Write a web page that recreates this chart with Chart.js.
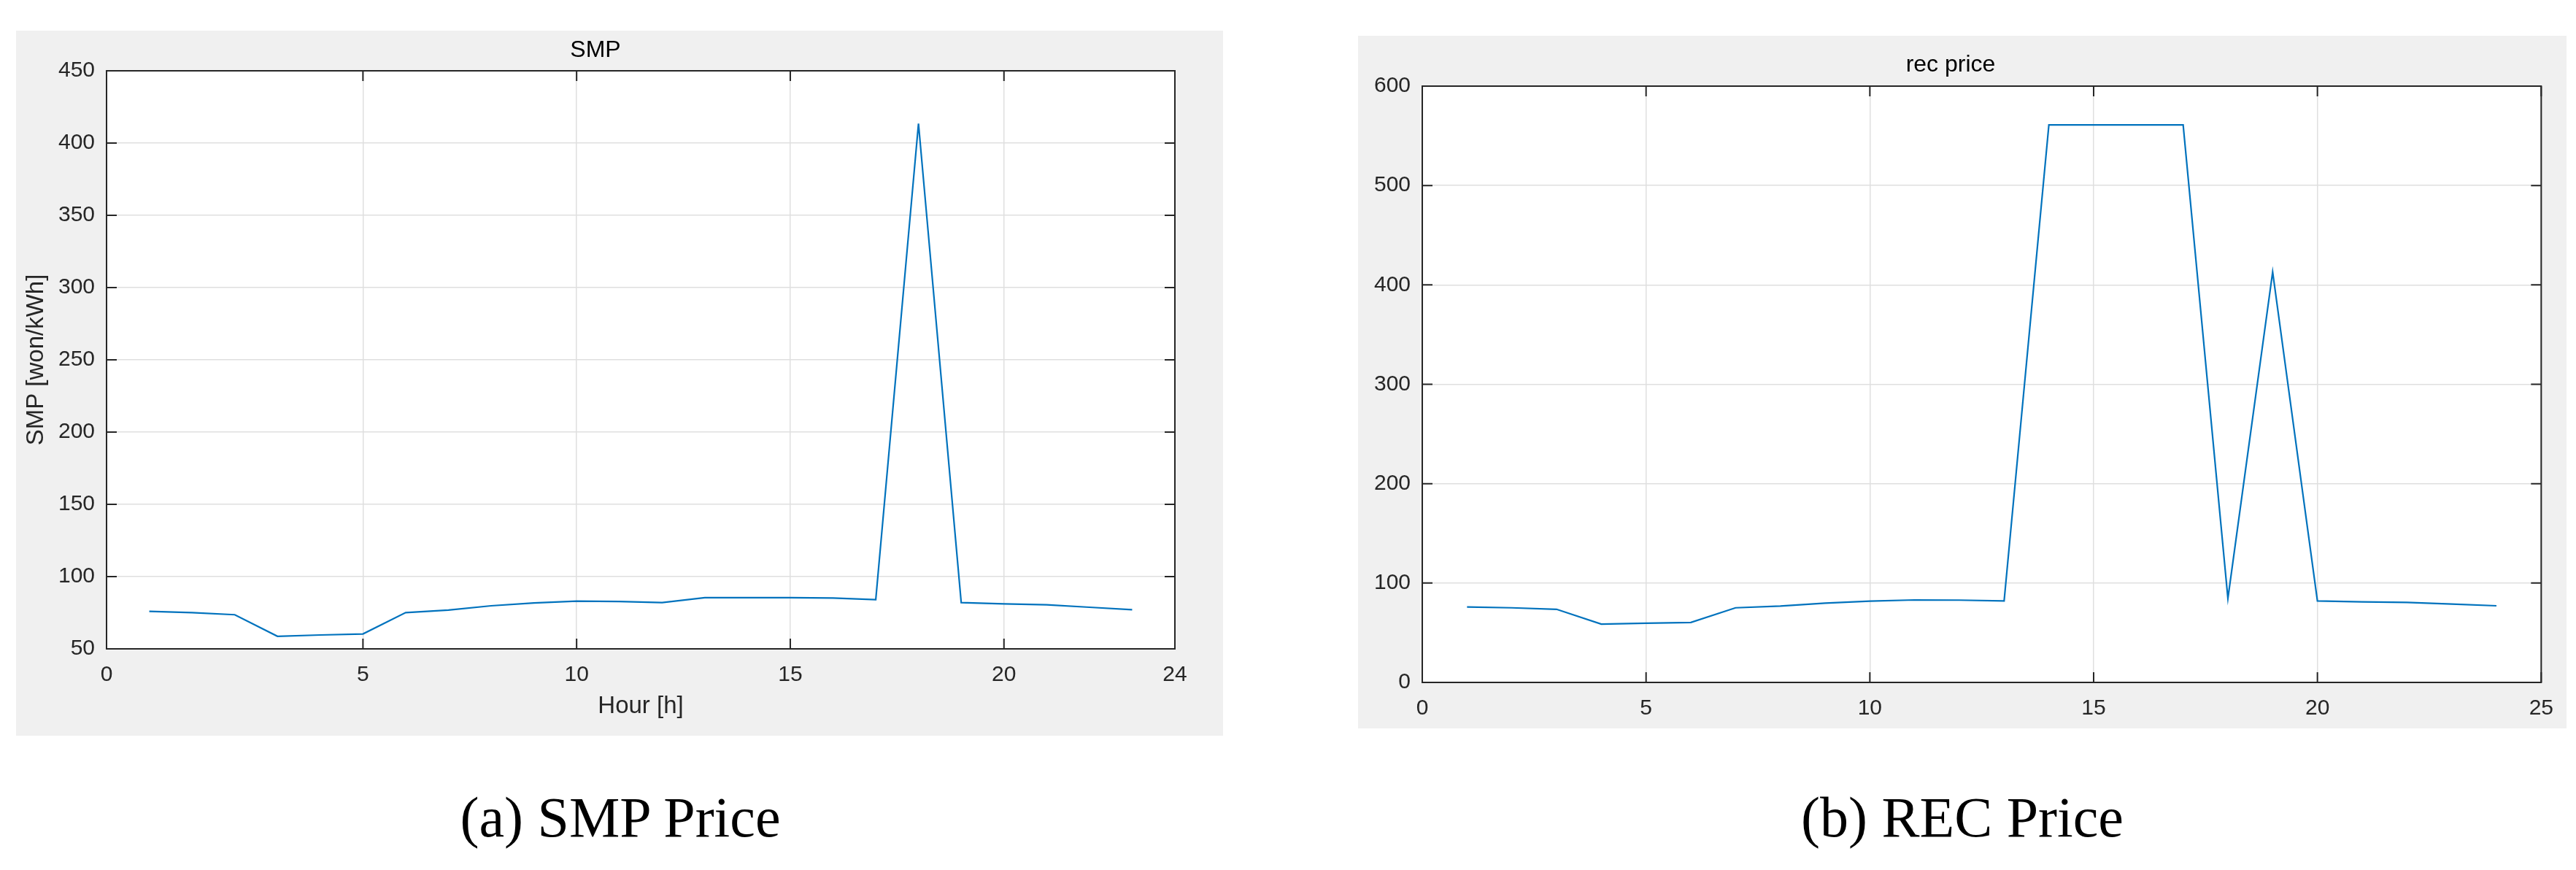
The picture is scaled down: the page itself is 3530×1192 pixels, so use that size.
<!DOCTYPE html>
<html>
<head>
<meta charset="utf-8">
<script src="https://cdn.jsdelivr.net/npm/chart.js@4.4.1/dist/chart.umd.min.js"></script>
<style>
  html, body { margin:0; padding:0; background:#ffffff; }
  body { width:3530px; height:1192px; position:relative; overflow:hidden; }
  .panel { position:absolute; background:#f0f0f0; }
  .caption { position:absolute; width:800px; text-align:center; font-family:"Liberation Serif","DejaVu Serif",serif; font-size:78px; line-height:78px; color:#000; white-space:nowrap; }
</style>
</head>
<body>
<div class="panel" id="p1" style="left:22px; top:42px; width:1654px; height:966px;"><canvas id="c1" width="1654" height="966"></canvas></div>
<div class="panel" id="p2" style="left:1861px; top:49px; width:1656px; height:949px;"><canvas id="c2" width="1656" height="949"></canvas></div>
<div class="caption" style="left:450px; top:1081px;">(a) SMP Price</div>
<div class="caption" style="left:2289px; top:1081px;">(b) REC Price</div>
<script>
// ---- data ----
const smpHours  = [0, 1, 2, 3, 4, 5, 6, 7, 8, 9, 10, 11, 12, 13, 14, 15, 16, 17, 18, 19, 20, 21, 22, 23];
const smpValues = [75.9, 75.1, 73.6, 58.7, 59.6, 60.3, 75.1, 76.8, 79.8, 81.8, 83.0, 82.8, 82.0, 85.4, 85.4, 85.4, 85.2, 84.0, 413.5, 82.0, 81.1, 80.5, 78.8, 77.1];
const smpXTickValues = [-1, 5, 10, 15, 20, 24];
const smpXTickLabels = ['0', '5', '10', '15', '20', '24'];

const recHours  = [1, 2, 3, 4, 5, 6, 7, 8, 9, 10, 11, 12, 13, 14, 15, 16, 17, 18, 19, 20, 21, 22, 23, 24];
const recValues = [75.9, 75.1, 73.6, 58.7, 59.6, 60.3, 75.1, 76.8, 79.8, 81.8, 83.0, 82.8, 82.0, 561, 561, 561, 561, 84.5, 413, 82.0, 81.1, 80.5, 78.8, 77.1];

const FONT = '"Liberation Sans", Arial, Helvetica, sans-serif';
const AXC = '#262626';
const GRIDC = '#dfdfdf';
const LINEC = '#0072BD';

const whiteArea = {
  id: 'whiteArea',
  beforeDraw(chart) {
    const {ctx, chartArea: a} = chart;
    ctx.save();
    ctx.fillStyle = '#ffffff';
    ctx.fillRect(a.left, a.top, a.right - a.left, a.bottom - a.top);
    ctx.restore();
  }
};

const boxTicks = {
  id: 'boxTicks',
  afterDraw(chart) {
    const {ctx, chartArea: a, scales: {x, y}} = chart;
    const L = 14;
    ctx.save();
    ctx.strokeStyle = AXC;
    ctx.lineWidth = 2;
    ctx.beginPath();
    x.ticks.forEach(t => {
      const px = x.getPixelForValue(t.value);
      ctx.moveTo(px, a.bottom); ctx.lineTo(px, a.bottom - L);
      ctx.moveTo(px, a.top); ctx.lineTo(px, a.top + L);
    });
    y.ticks.forEach(t => {
      const py = y.getPixelForValue(t.value);
      ctx.moveTo(a.left, py); ctx.lineTo(a.left + L, py);
      ctx.moveTo(a.right, py); ctx.lineTo(a.right - L, py);
    });
    ctx.stroke();
    ctx.strokeRect(a.left, a.top, a.right - a.left, a.bottom - a.top);
    ctx.restore();
  }
};

function toPoints(xs, ys) { return xs.map((h, i) => ({x: h, y: ys[i]})); }

const tickFont = {family: FONT, size: 30};

new Chart(document.getElementById('c1'), {
  type: 'line',
  data: { datasets: [{ data: toPoints(smpHours, smpValues), borderColor: LINEC, borderWidth: 2.2, pointRadius: 0, tension: 0, fill: false }] },
  options: {
    responsive: false, animation: false, devicePixelRatio: 1,
    layout: { padding: { left: 0, right: 66, top: 0, bottom: 0 } },
    plugins: {
      legend: { display: false }, tooltip: { enabled: false },
      title: { display: true, text: 'SMP', color: '#000', font: {family: FONT, size: 32, weight: 'normal'}, padding: {top: 8, bottom: 8.6} }
    },
    scales: {
      x: {
        type: 'linear', min: -1, max: 24,
        afterBuildTicks: s => { s.ticks = smpXTickValues.map(v => ({value: v})); },
        afterFit: s => { s.height = 119; },
        ticks: { autoSkip: false, maxRotation: 0, padding: 18, color: AXC, font: tickFont,
                 callback: (v, i) => smpXTickLabels[i] },
        grid: { color: GRIDC, lineWidth: 1.5, drawTicks: false },
        border: { display: false },
        title: { display: true, text: 'Hour [h]', color: AXC, font: {family: FONT, size: 33}, padding: {top: 0, bottom: 20} }
      },
      y: {
        min: 50, max: 450,
        afterFit: s => { s.width = 124; },
        ticks: { stepSize: 50, padding: 16, color: AXC, font: tickFont },
        grid: { color: GRIDC, lineWidth: 1.5, drawTicks: false },
        border: { display: false },
        title: { display: true, text: 'SMP [won/kWh]', color: AXC, font: {family: FONT, size: 33}, padding: {top: 8, bottom: 0} }
      }
    }
  },
  plugins: [whiteArea, boxTicks]
});

new Chart(document.getElementById('c2'), {
  type: 'line',
  data: { datasets: [{ data: toPoints(recHours, recValues), borderColor: LINEC, borderWidth: 2.2, pointRadius: 0, tension: 0, fill: false }] },
  options: {
    responsive: false, animation: false, devicePixelRatio: 1,
    layout: { padding: { left: 0, right: 32, top: 0, bottom: 0 } },
    plugins: {
      legend: { display: false }, tooltip: { enabled: false },
      title: { display: true, text: 'rec price', color: '#000', font: {family: FONT, size: 32, weight: 'normal'}, padding: {top: 21, bottom: 9.6} }
    },
    scales: {
      x: {
        type: 'linear', min: 0, max: 25,
        afterFit: s => { s.height = 63; },
        ticks: { stepSize: 5, autoSkip: false, maxRotation: 0, padding: 18, color: AXC, font: tickFont },
        grid: { color: GRIDC, lineWidth: 1.5, drawTicks: false },
        border: { display: false }
      },
      y: {
        min: 0, max: 600,
        afterFit: s => { s.width = 88; },
        ticks: { stepSize: 100, padding: 16, color: AXC, font: tickFont },
        grid: { color: GRIDC, lineWidth: 1.5, drawTicks: false },
        border: { display: false }
      }
    }
  },
  plugins: [whiteArea, boxTicks]
});
</script>
</body>
</html>
